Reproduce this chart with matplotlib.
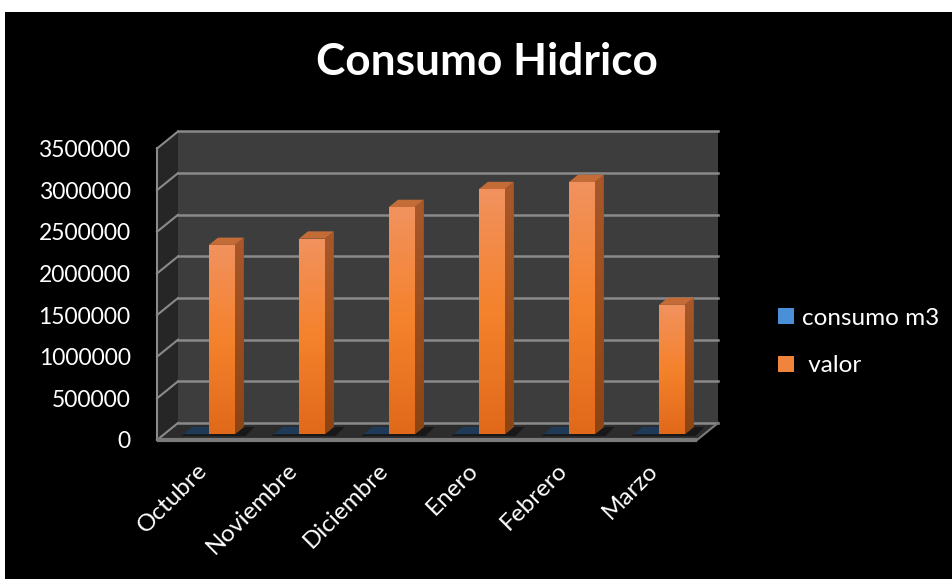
import numpy as np
import matplotlib
matplotlib.use('Agg')
import matplotlib.pyplot as plt
import matplotlib.transforms as mtransforms
from matplotlib.patches import Polygon, Patch, Rectangle
from matplotlib.colors import LinearSegmentedColormap

# ---------------- data ----------------
categories = ['Octubre', 'Noviembre', 'Diciembre', 'Enero', 'Febrero', 'Marzo']
consumo_m3 = [1850, 1900, 2250, 2400, 2450, 1250]
valor = [2275000, 2350000, 2730000, 2945000, 3030000, 1555000]
y_ticks = [0, 500000, 1000000, 1500000, 2000000, 2500000, 3000000, 3500000]
series_names = ['consumo m3', ' valor']
title = 'Consumo Hidrico'

# ---------------- style ----------------
plt.rcParams['font.family'] = ['Lato', 'DejaVu Sans']
W, H = 953, 579
fig = plt.figure(figsize=(W / 100, H / 100), dpi=100, facecolor='white')
fig.add_artist(Rectangle((5 / W, 0), 1 - 5 / W, 1 - 12 / H, transform=fig.transFigure,
                         facecolor='black', edgecolor='none', zorder=0))

ax = fig.add_axes([157 / W, (H - 440) / H, 540 / W, 291.5 / H])
ax.patch.set_visible(False)
for s in ax.spines.values():
    s.set_visible(False)

n = len(categories)
ymax = y_ticks[-1]
xl, xr = -0.5, n - 0.5
DX = 21 / 90.0                 # depth offset in x data units
DY = 17 / 291.5 * ymax         # depth offset in y data units
d0, d1 = 0.33, 0.76            # bar depth range
dd = d1 - d0
bw = 1 / 3.5                   # bar width (gap 150%)

wall_back = '#3d3d3d'
wall_side = '#262626'
floor_c = '#2c2c2c'
grid_c = '#8a8a8a'

# walls
ax.add_patch(Polygon([(xl + DX, DY), (xr + DX, DY), (xr + DX, ymax + DY), (xl + DX, ymax + DY)],
                     closed=True, facecolor=wall_back, edgecolor='none', zorder=0.5, clip_on=False))
ax.add_patch(Polygon([(xl, 0), (xl + DX, DY), (xl + DX, ymax + DY), (xl, ymax)],
                     closed=True, facecolor=wall_side, edgecolor='none', zorder=0.5, clip_on=False))
ax.add_patch(Polygon([(xl, 0), (xr, 0), (xr + DX, DY), (xl + DX, DY)],
                     closed=True, facecolor=floor_c, edgecolor='none', zorder=0.6, clip_on=False))

# gridlines
for t in y_ticks:
    ax.plot([xl + DX, xr + DX], [t + DY, t + DY], color=grid_c, lw=1.8, zorder=0.8, clip_on=False)
    ax.plot([xl, xl + DX], [t, t + DY], color=grid_c, lw=1.5, zorder=0.8, clip_on=False)
ax.plot([xl, xl], [0, ymax], color=grid_c, lw=1.5, zorder=0.8, clip_on=False)
ax.plot([xl, xr], [0, 0], color='#7a7a7a', lw=3, zorder=0.9, clip_on=False, solid_capstyle='butt')
ax.plot([xr, xr + DX], [0, DY], color='#7a7a7a', lw=1.5, zorder=0.9, clip_on=False)

x = np.arange(n)
base = d0 * DY

# floor shadows
for i in range(n):
    x0 = i - bw + d0 * DX
    x1 = i + bw + d0 * DX
    ax.add_patch(Polygon([(x0 - 0.02, base - 0.1 * DY), (x1 + 0.12, base - 0.1 * DY),
                          (x1 + 0.12 + dd * DX, base + dd * DY), (x0 + dd * DX, base + dd * DY)],
                         closed=True, facecolor='black', alpha=0.45, edgecolor='none', zorder=1, clip_on=False))

# blue series (near zero)
blue_bars = ax.bar(x - bw + d0 * DX, consumo_m3, width=bw, bottom=base, align='edge',
                   color='#4a8fd6', zorder=2, clip_on=False)
for i, v in enumerate(consumo_m3):
    x0 = i - bw + d0 * DX
    x1 = x0 + bw
    ax.add_patch(Polygon([(x0, base + v), (x1, base + v), (x1 + dd * DX, base + v + dd * DY),
                          (x0 + dd * DX, base + v + dd * DY)], closed=True,
                         facecolor='#1f3a57', edgecolor='none', zorder=2.1, clip_on=False))

# orange series
cmap_or = LinearSegmentedColormap.from_list('or', ['#e0691a', '#f5822c', '#f1925f'])
cmap_side = LinearSegmentedColormap.from_list('sd', ['#8c4413', '#a9582a'])
orange_bars = ax.bar(x + d0 * DX, valor, width=bw, bottom=base, align='edge',
                     color='#f0843c', zorder=3, clip_on=False)
grad = np.linspace(0, 1, 256).reshape(-1, 1)
for i, (rect, v) in enumerate(zip(orange_bars, valor)):
    x0 = rect.get_x()
    x1 = x0 + bw
    side = Polygon([(x1, base), (x1 + dd * DX, base + dd * DY), (x1 + dd * DX, base + dd * DY + v),
                    (x1, base + v)], closed=True, facecolor='#9c4e1d', edgecolor='none',
                   zorder=3, clip_on=False)
    ax.add_patch(side)
    im = ax.imshow(grad, extent=[x1, x1 + dd * DX, base, base + v + dd * DY], origin='lower',
                   cmap=cmap_side, aspect='auto', zorder=3.05, interpolation='bilinear')
    im.set_clip_path(side)
    ax.add_patch(Polygon([(x0, base + v), (x1, base + v), (x1 + dd * DX, base + v + dd * DY),
                          (x0 + dd * DX, base + v + dd * DY)], closed=True,
                         facecolor='#c46c38', edgecolor='none', zorder=3.1, clip_on=False))
    im2 = ax.imshow(grad, extent=[x0, x1, base, base + v], origin='lower', cmap=cmap_or,
                    aspect='auto', zorder=3.2, interpolation='bilinear')
    im2.set_clip_path(rect)

ax.set_xlim(xl, xr)
ax.set_ylim(0, ymax)

ax.set_yticks(y_ticks)
ax.set_yticklabels([str(t) for t in y_ticks])
ax.set_xticks(x)
ax.set_xticklabels(categories, rotation=45, ha='right')
ax.tick_params(axis='y', length=0, pad=19, labelcolor='white', labelsize=16.5)
ax.tick_params(axis='x', length=0, pad=14, labelcolor='white', labelsize=17.5)
offset = mtransforms.ScaledTranslation(7 / 72, 0, fig.dpi_scale_trans)
for lab in ax.get_xticklabels():
    lab.set_transform(lab.get_transform() + offset)

fig.text(487 / W, 1 - 62 / H, title, ha='center', va='center', fontsize=31.8,
         fontweight='bold', color='white')

handles = [Patch(facecolor='#4a90d9', edgecolor='none'), Patch(facecolor='#f0843c', edgecolor='none')]
fig.legend(handles=handles, labels=series_names, loc='center left',
           bbox_to_anchor=(756 / W, 1 - 342 / H), frameon=False, labelcolor='white',
           fontsize=17.5, handlelength=0.65, handleheight=0.65, handletextpad=0.35,
           labelspacing=1.1)

fig.savefig('out.png', dpi=100, facecolor=fig.get_facecolor())
